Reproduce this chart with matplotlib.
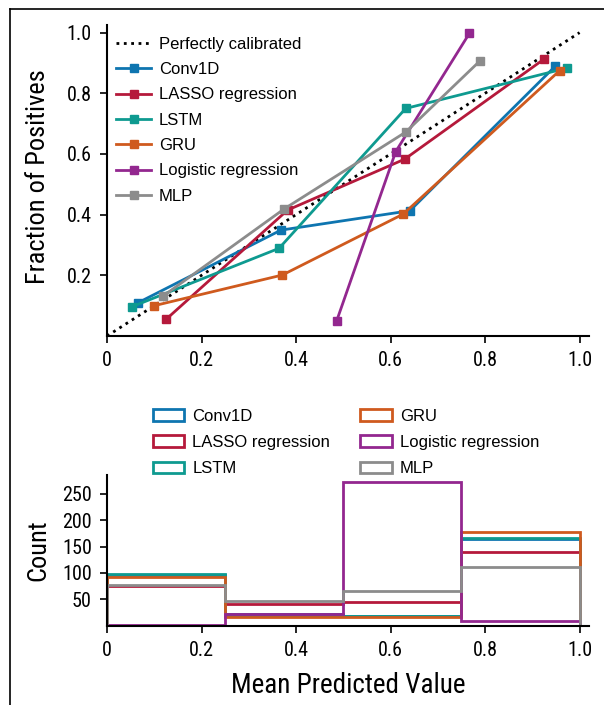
import matplotlib
matplotlib.use("Agg")
import matplotlib.pyplot as plt
from matplotlib import font_manager
from matplotlib.lines import Line2D
from matplotlib.patches import Patch

models = ["Conv1D", "LASSO regression", "LSTM", "GRU", "Logistic regression", "MLP"]
colors = ["#0E75B0", "#B5193B", "#0E9A90", "#CF5A1E", "#93278F", "#8C8C8C"]

# calibration curves: mean predicted value, fraction of positives
conv_x = [0.066, 0.368, 0.641, 0.949]
conv_y = [0.110, 0.349, 0.413, 0.890]
lasso_x = [0.125, 0.382, 0.630, 0.925]
lasso_y = [0.055, 0.415, 0.583, 0.913]
lstm_x = [0.052, 0.364, 0.632, 0.973]
lstm_y = [0.096, 0.289, 0.750, 0.883]
gru_x = [0.100, 0.371, 0.627, 0.958]
gru_y = [0.100, 0.201, 0.402, 0.875]
logit_x = [0.486, 0.611, 0.767]
logit_y = [0.050, 0.608, 0.998]
mlp_x = [0.119, 0.375, 0.632, 0.790]
mlp_y = [0.132, 0.419, 0.672, 0.908]

# histogram counts per bin
bin_edges = [0, 0.25, 0.5, 0.75, 1.0]
conv_counts = [97, 23, 18, 164]
lasso_counts = [75, 41, 44, 140]
lstm_counts = [98, 19, 19, 166]
gru_counts = [93, 16, 16, 178]
logit_counts = [2, 22, 272, 8]
mlp_counts = [78, 47, 65, 111]

curves_x = [conv_x, lasso_x, lstm_x, gru_x, logit_x, mlp_x]
curves_y = [conv_y, lasso_y, lstm_y, gru_y, logit_y, mlp_y]
counts = [conv_counts, lasso_counts, lstm_counts, gru_counts, logit_counts, mlp_counts]

# pick a condensed face for axis text if one is installed
installed = {(f.name, f.stretch) for f in font_manager.fontManager.ttflist}
names = {n for n, s in installed}
narrow_family, narrow_stretch = "DejaVu Sans", "normal"
for cand in ["Liberation Sans Narrow", "Roboto Condensed", "Open Sans Condensed",
             "Noto Sans Condensed", "DejaVu Sans Condensed"]:
    if cand in names:
        narrow_family = cand
        break
else:
    for n, s in installed:
        if n in ("DejaVu Sans", "Noto Sans", "Roboto", "Open Sans") and s in ("condensed", "semi-condensed", 87.5, 75):
            narrow_family, narrow_stretch = n, s
            break
narrow = [narrow_family, "DejaVu Sans"]
plain = ["Liberation Sans", "DejaVu Sans"]

fig = plt.figure(figsize=(6.04, 7.05), dpi=100)

# top: calibration plot
ax1 = fig.add_axes([0.1772, 0.5234, 0.798, 0.4411])
ax1.plot([0, 1], [0, 1], color="black", linestyle=":", linewidth=2, label="Perfectly calibrated")
for name, c, xs, ys in zip(models, colors, curves_x, curves_y):
    ax1.plot(xs, ys, color=c, linewidth=2, marker="s", markersize=5.5, label=name)
ax1.set_xlim(0, 1.02)
ax1.set_ylim(0, 1.025)
ax1.set_yticks([0.2, 0.4, 0.6, 0.8, 1.0])
ax1.set_yticklabels(["0.2", "0.4", "0.6", "0.8", "1.0"])
ax1.set_xticks([0, 0.2, 0.4, 0.6, 0.8, 1.0])
ax1.set_xticklabels(["0", "0.2", "0.4", "0.6", "0.8", "1.0"])
ax1.set_ylabel("Fraction of Positives", family=narrow, stretch=narrow_stretch, fontsize=19)
ax1.yaxis.set_label_coords(-0.118, 0.513)
ax1.legend(loc="upper left", bbox_to_anchor=(0.0, 0.992), frameon=False, borderaxespad=0.15,
           handlelength=2.1, handletextpad=0.46, labelspacing=0.62,
           prop={"family": plain, "size": 12})

# bottom: histogram
ax2 = fig.add_axes([0.1772, 0.1126, 0.798, 0.2136])
for name, c, cnt in zip(models, colors, counts):
    ax2.stairs(cnt, bin_edges, color=c, linewidth=2, baseline=0)
ax2.set_xlim(0, 1.02)
ax2.set_ylim(0, 286)
ax2.set_yticks([50, 100, 150, 200, 250])
ax2.set_xticks([0, 0.2, 0.4, 0.6, 0.8, 1.0])
ax2.set_xticklabels(["0", "0.2", "0.4", "0.6", "0.8", "1.0"])
ax2.set_ylabel("Count", family=narrow, stretch=narrow_stretch, fontsize=19)
ax2.yaxis.set_label_coords(-0.118, 0.5)
ax2.set_xlabel("Mean Predicted Value", family=narrow, stretch=narrow_stretch, fontsize=19.5, labelpad=9)

handles = [Patch(facecolor="white", edgecolor=c, linewidth=2, label=n) for n, c in zip(models, colors)]
ax2.legend(handles=handles, loc="upper left", bbox_to_anchor=(146 / 604, 1 - 402 / 705),
           bbox_transform=fig.transFigure, frameon=False, borderaxespad=0, ncol=2,
           handlelength=1.9, handleheight=0.7, handletextpad=0.48, labelspacing=0.68,
           columnspacing=1.8, prop={"family": plain, "size": 12})

for ax in (ax1, ax2):
    ax.spines["top"].set_visible(False)
    ax.spines["right"].set_visible(False)
    ax.spines["left"].set_linewidth(1.5)
    ax.spines["bottom"].set_linewidth(1.5)
    ax.tick_params(direction="out", length=5, width=1.2, pad=6)
    for lab in ax.get_xticklabels() + ax.get_yticklabels():
        lab.set_family(narrow)
        lab.set_stretch(narrow_stretch)
        lab.set_fontsize(14.5)

# frame edge visible at the left and top of the picture
fig.add_artist(Line2D([10 / 604, 10 / 604], [0, 1 - 9 / 705], color="black", linewidth=1.2))
fig.add_artist(Line2D([10 / 604, 1], [1 - 9 / 705, 1 - 9 / 705], color="black", linewidth=1.2))

fig.savefig("out.png", dpi=100)
